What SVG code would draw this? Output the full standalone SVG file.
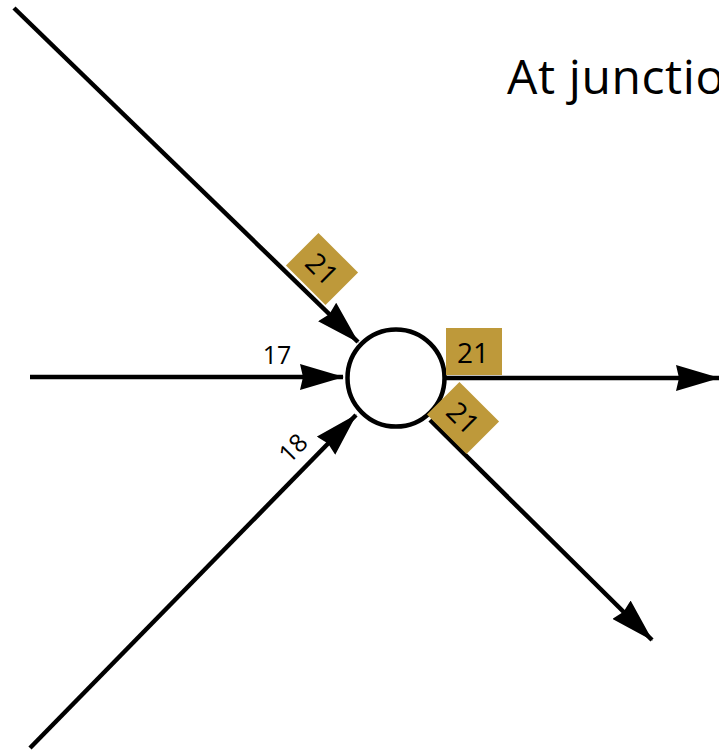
<svg xmlns="http://www.w3.org/2000/svg" width="719" height="751" viewBox="0 0 719 751">
<defs>
<marker id="ah" viewBox="0 0 44 26" refX="43" refY="13" markerWidth="44" markerHeight="26" markerUnits="userSpaceOnUse" orient="auto">
<path d="M0,0 L44,13 L0,26 L3,13 Z" fill="#000"/>
</marker>
<style>
.ln{stroke:#000;stroke-width:4.5;fill:none}
.lbl{font-family:"Open Sans","Noto Sans",sans-serif;font-size:25px;fill:#000}
.big{font-size:28px}
.tag{fill:#BE993A}
</style>
</defs>
<rect width="719" height="751" fill="#fff"/>
<text x="507" y="94" style="font-family:'Open Sans','Noto Sans',sans-serif;font-size:48px;letter-spacing:0.6px" fill="#000">At junction</text>
<g id="connectors">
<line class="ln" x1="14" y1="8" x2="358" y2="342" marker-end="url(#ah)"/>
<line class="ln" x1="30" y1="377" x2="343" y2="377" marker-end="url(#ah)"/>
<line class="ln" x1="30" y1="748" x2="356" y2="415" marker-end="url(#ah)"/>
<line class="ln" x1="446" y1="378" x2="719" y2="378" marker-end="url(#ah)"/>
<line class="ln" x1="430" y1="420" x2="652" y2="640" marker-end="url(#ah)"/>
</g>
<g id="node">
<circle cx="396" cy="378" r="48.5" fill="#fff" stroke="#000" stroke-width="4.5"/>
</g>
<g id="label-in-top">
<g transform="translate(322,269) rotate(45)">
<rect class="tag" x="-28" y="-23" width="56" height="46"/>
<text class="lbl big" x="0" y="10" text-anchor="middle">21</text>
</g>
</g>
<g id="label-17"><text class="lbl" x="277" y="364" text-anchor="middle">17</text></g>
<g id="label-18"><text class="lbl" transform="translate(293,448) rotate(-45)" x="0" y="9" text-anchor="middle">18</text></g>
<g id="label-out-right">
<rect class="tag" x="446" y="328" width="56" height="47"/>
<text class="lbl big" x="473" y="363" text-anchor="middle">21</text>
</g>
<g id="label-out-down">
<g transform="translate(463,418) rotate(45)">
<rect class="tag" x="-28" y="-23" width="56" height="46"/>
<text class="lbl big" x="0" y="10" text-anchor="middle">21</text>
</g>
</g>
</svg>
